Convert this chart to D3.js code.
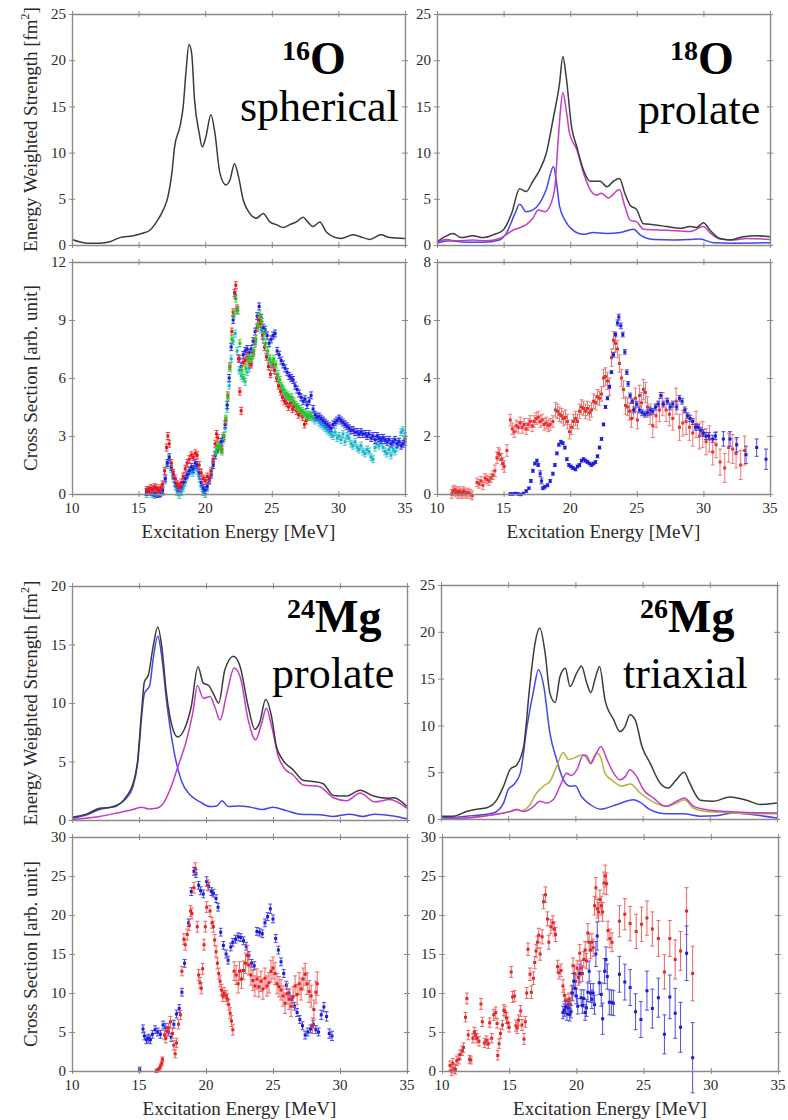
<!DOCTYPE html>
<html>
<head>
<meta charset="utf-8">
<script src="https://cdn.jsdelivr.net/npm/d3@7"></script>
</head>
<body style="margin:0;background:#fff">
<svg id="fig" width="788" height="1120" style="display:block"></svg>
<script>
// ---------- shared axis values ----------
const energyTicks = [10, 15, 20, 25, 30, 35];
const strengthTicks25 = [0, 5, 10, 15, 20, 25];
const strengthTicks20 = [0, 5, 10, 15, 20];
const xsTicks12 = [0, 3, 6, 9, 12];
const xsTicks8 = [0, 2, 4, 6, 8];
const xsTicks30 = [0, 5, 10, 15, 20, 25, 30];

// ---------- 16O : calculated strength (total) ----------
const o16Total = [[10,0.6],[11.2,0.2],[12.1,0.2],[12.85,0.35],[13.6,0.8],[14.6,1.0],[15.35,1.3],[15.85,1.6],[16.35,2.5],[16.85,3.8],[17.2,5.2],[17.5,7.8],[17.7,10.6],[18.1,12.8],[18.35,15],[18.55,18.6],[18.78,21.7],[18.98,20.8],[19.2,15.7],[19.55,12.1],[19.78,10.6],[20.05,11.7],[20.43,14.1],[20.73,12.1],[21.1,7.8],[21.55,6.5],[21.85,7.0],[22.2,8.8],[22.5,7.4],[22.85,4.9],[23.35,3.4],[23.85,2.9],[24.35,3.4],[24.85,2.5],[25.35,2.2],[25.85,1.9],[26.35,2.2],[26.85,2.5],[27.35,3.0],[27.7,2.5],[28.1,2.0],[28.6,2.5],[29.1,1.4],[29.6,0.9],[30.2,0.7],[31.1,1.1],[31.85,0.8],[32.35,0.6],[33.2,1.1],[33.85,0.8],[35,0.7]];

// ---------- 18O : calculated strength ----------
const o18Total = [[10,0.35],[10.6,0.9],[11.2,1.25],[11.8,0.8],[12.7,1.0],[13.45,0.8],[14.2,1.1],[14.95,1.6],[15.6,3.4],[16.2,6.1],[16.7,5.8],[17.2,6.9],[17.7,8.1],[18.2,9.9],[18.7,13.5],[19.2,17.5],[19.45,20.4],[19.7,18.2],[20.1,12.8],[20.5,10.6],[21,8.1],[21.5,6.9],[22.25,6.9],[22.75,6.3],[23.25,6.9],[23.7,7.2],[24.1,5.6],[24.5,4.3],[25,3.8],[25.5,2.3],[26.25,2.2],[27.25,2.0],[28.25,1.8],[29,2.0],[29.5,1.9],[30,2.4],[30.5,1.6],[31.25,0.7],[32,0.55],[33,0.9],[34,1.0],[35,0.9]];
const o18K0 = [[10,0.25],[10.7,0.6],[11.45,0.45],[12.7,0.55],[13.7,0.45],[14.7,0.7],[15.7,1.6],[16.7,2.2],[17.2,2.9],[17.6,3.8],[18.1,3.6],[18.5,4.3],[18.85,6.3],[19.1,11.4],[19.27,14.6],[19.45,16.5],[19.7,14.6],[19.95,12.1],[20.5,10.3],[21,7.8],[21.5,6.0],[22,5.4],[22.35,5.6],[22.85,5.1],[23.7,6.0],[24.1,4.2],[24.5,2.7],[25,2.5],[25.5,1.7],[27.25,1.6],[29,1.45],[30,2.0],[30.5,1.3],[31.25,0.65],[32.25,0.55],[33.25,0.7],[35,0.6]];
const o18K1 = [[10,0.2],[10.95,0.45],[12.2,0.3],[13.45,0.3],[14.7,0.55],[15.2,1.25],[15.85,3.4],[16.2,4.4],[16.7,3.6],[17.2,3.8],[17.7,4.5],[18.2,6.0],[18.75,8.5],[18.95,7.0],[19.2,4.2],[19.6,2.7],[20.2,1.6],[21,1.15],[21.7,1.35],[22.75,1.25],[23.75,1.35],[24.75,1.7],[25.25,1.1],[26.25,0.6],[27.75,0.55],[29,0.6],[29.75,0.65],[30.75,0.25],[32.25,0.2],[35,0.25]];

// ---------- 24Mg : calculated strength ----------
const mg24Total = [[10,0.23],[11.07,0.5],[12.06,1.0],[13.06,1.1],[14.05,2.0],[14.55,3.1],[14.9,5.1],[15.2,9.4],[15.4,11.8],[15.7,12.4],[16.05,14.8],[16.4,16.5],[16.7,14.8],[17.05,10.8],[17.55,7.7],[17.9,7.1],[18.4,7.8],[18.9,9.7],[19.4,13.1],[19.8,11.7],[20.2,11.5],[20.55,10.8],[20.95,10.0],[21.4,12.8],[22.05,14.0],[22.55,13.1],[23.15,9.7],[23.65,7.75],[24.0,8.3],[24.45,10.3],[24.9,8.8],[25.25,6.3],[25.75,5.1],[26.5,4.3],[27.25,3.4],[28,3.3],[28.75,3.1],[29.5,2.1],[30.5,2.05],[31.5,2.55],[32.5,2.05],[33.6,1.85],[34,1.9],[35,1.15]];
const mg24K0 = [[10,0.05],[12.06,0.3],[13.56,0.65],[14.55,0.9],[15.2,1.1],[15.7,0.95],[16.3,1.0],[16.8,1.4],[17.3,2.55],[17.9,4.55],[18.55,6.85],[19.05,9.4],[19.35,11.5],[19.8,10.4],[20.3,10.55],[20.65,9.7],[21.05,8.55],[21.55,10.8],[22.1,13.0],[22.55,12.25],[23.15,8.55],[23.7,6.85],[24.15,8.25],[24.5,9.55],[24.9,8.0],[25.4,5.4],[25.85,4.4],[26.5,3.85],[27.25,3.0],[28.5,2.85],[28.85,2.55],[29.5,1.9],[30.5,1.65],[31.5,2.3],[32.6,1.55],[33.7,1.75],[35,1.0]];
const mg24K1 = [[10,0.15],[11.07,0.43],[12.06,0.9],[13.06,1.15],[14.05,1.85],[14.55,2.85],[14.9,4.85],[15.2,8.85],[15.4,10.8],[15.8,11.5],[16.05,13.7],[16.4,15.7],[16.7,13.95],[17.05,10.25],[17.55,6.25],[18.15,3.4],[18.8,2.15],[19.55,1.55],[20.3,1.15],[20.8,1.2],[21.2,1.65],[21.65,1.15],[22.5,1.2],[23.3,1.1],[24.25,0.9],[25,1.1],[26,0.8],[27,0.5],[28.5,0.45],[29.5,0.3],[30.7,0.5],[31.7,0.3],[32.6,0.5],[34,0.35],[35,0.1]];

// ---------- 26Mg : calculated strength ----------
const mg26Total = [[10,0.3],[10.9,0.3],[11.9,0.8],[12.65,1.05],[13.4,1.2],[14.15,2.05],[14.65,3.5],[15.15,5.3],[15.65,5.8],[16.15,7.75],[16.6,14.15],[17.0,18.8],[17.35,20.4],[17.75,17.7],[18.1,13.45],[18.5,12.45],[18.85,15.2],[19.25,16.1],[19.6,14.15],[20.1,15.6],[20.45,16.35],[20.85,14.5],[21.15,13.5],[21.45,14.9],[21.8,16.3],[22.2,12.75],[22.85,10.6],[23.3,9.35],[23.7,9.9],[24.05,11.15],[24.45,10.6],[24.95,7.75],[25.55,6.0],[26.3,3.85],[26.9,3.3],[27.4,4.0],[28.1,5.0],[28.5,3.85],[29.3,2.0],[30.25,1.9],[31.5,2.35],[32.75,2.0],[33.75,1.55],[35,1.7]];
const mg26K1 = [[10,0.1],[11.9,0.3],[13.9,0.65],[14.65,1.7],[15.0,3.15],[15.4,3.65],[15.9,4.9],[16.4,9.9],[16.9,13.8],[17.25,15.95],[17.65,14.15],[18.1,9.2],[18.6,6.35],[19.1,4.2],[19.6,3.5],[20.0,3.55],[20.45,2.4],[21.1,1.55],[21.85,1.05],[23.1,1.55],[24.3,2.05],[24.8,1.8],[25.55,1.0],[26.8,0.55],[28.05,0.55],[29.3,0.3],[30.5,0.35],[31.75,0.65],[33.25,0.45],[35,0.1]];
const mg26K2 = [[10,0.0],[13.15,0.3],[15.15,0.8],[15.65,1.05],[16.0,0.9],[16.6,1.5],[17.1,2.75],[17.6,3.5],[18.1,4.0],[18.6,5.6],[19.1,7.1],[19.5,6.35],[19.85,6.5],[20.25,6.75],[20.6,6.85],[21.1,6.0],[21.6,7.05],[21.85,6.7],[22.2,4.9],[22.85,4.0],[23.45,3.5],[24.1,3.75],[24.8,2.8],[25.8,1.8],[26.8,1.35],[27.55,1.7],[28.1,2.05],[28.8,1.15],[29.8,0.8],[31.3,0.7],[32.75,0.55],[35,0.55]];
const mg26K0 = [[10,0.0],[13.15,0.3],[15.15,0.8],[15.65,1.0],[16.15,0.8],[16.9,1.35],[17.35,1.9],[17.85,1.7],[18.35,2.05],[18.85,3.5],[19.35,4.9],[19.7,4.65],[20.1,5.25],[20.6,6.85],[20.85,6.75],[21.15,5.9],[21.45,6.7],[21.9,7.75],[22.35,6.35],[22.85,4.9],[23.3,4.2],[23.7,4.5],[24.05,5.25],[24.55,4.55],[25.05,3.15],[25.8,2.25],[26.7,1.35],[27.55,1.9],[28.1,2.25],[28.8,1.35],[29.8,1.0],[31.3,0.8],[32.75,0.7],[35,0.65]];

// ---------- 16O : measured cross sections ----------
const o16Err = 0.18;
const o16Cyan = [[15.6,0.0],[15.8,0.1],[16.0,0.0],[16.2,-0.05],[16.4,0.0],[16.6,0.0],[16.8,0.1],[17.0,0.7],[17.15,1.5],[17.3,1.8],[17.45,1.3],[17.6,0.8],[17.75,0.4],[17.9,0.1],[18.05,-0.05],[18.2,0.1],[18.35,0.3],[18.5,0.6],[18.65,0.9],[18.8,1.1],[18.95,1.2],[19.1,1.1],[19.25,1.4],[19.4,1.2],[19.55,0.8],[19.7,0.4],[19.85,0.1],[20.0,0.0],[20.15,0.3],[20.3,0.7],[20.45,1.1],[20.6,1.6],[20.75,2.0],[20.9,2.3],[21.05,2.4],[21.2,2.6],[21.35,2.8],[21.5,3.4],[21.65,4.4],[21.8,5.6],[21.95,7.0],[22.1,7.9],[22.25,8.3],[22.4,7.4],[22.55,6.4],[22.7,6.1],[22.85,6.0],[23.0,5.8],[23.15,6.3],[23.3,6.5],[23.45,6.8],[23.6,7.2],[23.75,7.8],[23.9,8.6],[24.05,8.9],[24.2,8.5],[24.35,8.0],[24.5,7.6],[24.65,7.2],[24.8,6.9],[24.95,6.6],[25.1,6.7],[25.25,6.4],[25.4,6.0],[25.55,5.7],[25.7,5.5],[25.85,5.3],[26.0,5.1],[26.15,5.0],[26.3,4.9],[26.45,4.8],[26.6,4.7],[26.75,4.6],[26.9,4.5],[27.05,4.4],[27.2,4.3],[27.35,4.2],[27.5,4.2],[27.65,4.1],[27.8,4.1],[27.95,4.0],[28.1,3.9],[28.25,3.8],[28.4,3.9],[28.55,3.7],[28.7,3.6],[28.85,3.5],[29.0,3.4],[29.15,3.3],[29.3,3.2],[29.45,3.1],[29.6,3.0],[29.75,3.2],[29.9,2.9],[30.05,3.0],[30.2,2.8],[30.35,3.1],[30.5,2.7],[30.65,3.0],[30.8,2.9],[30.95,2.6],[31.1,2.5],[31.25,2.7],[31.4,2.4],[31.55,2.3],[31.7,2.5],[31.85,2.2],[32.0,2.1],[32.15,2.3],[32.3,2.2],[32.45,1.9],[32.6,1.8],[32.75,2.4],[32.9,2.6],[33.05,2.5],[33.2,2.7],[33.35,2.4],[33.5,2.2],[33.65,2.1],[33.8,2.3],[33.95,2.0],[34.1,2.3],[34.25,2.2],[34.4,2.4],[34.55,2.7],[34.7,3.2],[34.85,3.3],[35.0,3.0]];
const o16Blue = [[15.6,0.1],[15.8,0.15],[16.0,0.1],[16.2,0.05],[16.4,0.0],[16.6,0.05],[16.8,0.2],[17.0,0.8],[17.15,1.6],[17.3,1.9],[17.45,1.4],[17.6,1.0],[17.75,0.6],[17.9,0.35],[18.05,0.3],[18.2,0.4],[18.35,0.6],[18.5,0.8],[18.65,1.0],[18.8,1.2],[18.95,1.4],[19.1,1.3],[19.25,1.6],[19.4,1.5],[19.55,1.1],[19.7,0.6],[19.85,0.3],[20.0,0.2],[20.15,0.4],[20.3,0.7],[20.45,1.0],[20.6,1.5],[20.75,2.0],[20.9,2.3],[21.05,2.5],[21.2,2.7],[21.35,2.9],[21.5,3.6],[21.65,4.6],[21.8,6.0],[21.95,7.6],[22.1,9.0],[22.25,10.3],[22.4,9.5],[22.55,7.0],[22.7,6.6],[22.85,7.2],[23.0,7.4],[23.15,7.5],[23.3,7.3],[23.45,7.5],[23.6,7.9],[23.75,8.4],[23.9,9.2],[24.05,9.7],[24.2,9.1],[24.35,8.6],[24.5,8.5],[24.65,8.2],[24.8,7.8],[24.95,8.0],[25.1,8.2],[25.25,8.3],[25.4,7.4],[25.55,7.2],[25.7,6.9],[25.85,6.7],[26.0,6.5],[26.15,6.3],[26.3,6.1],[26.45,6.0],[26.6,5.9],[26.75,5.6],[26.9,5.4],[27.05,5.2],[27.2,5.0],[27.35,4.8],[27.5,4.9],[27.65,4.6],[27.8,4.8],[27.95,5.1],[28.1,4.4],[28.25,4.1],[28.4,4.0],[28.55,4.0],[28.7,3.9],[28.85,3.8],[29.0,3.7],[29.15,3.6],[29.3,3.5],[29.45,3.4],[29.6,3.6],[29.75,3.7],[29.9,3.8],[30.05,3.9],[30.2,3.8],[30.35,3.7],[30.5,3.6],[30.65,3.5],[30.8,3.4],[30.95,3.3],[31.1,3.3],[31.25,3.2],[31.4,3.2],[31.55,3.1],[31.7,3.2],[31.85,3.1],[32.0,3.1],[32.15,3.0],[32.3,3.1],[32.45,2.9],[32.6,3.0],[32.75,2.8],[32.9,3.0],[33.05,2.9],[33.2,2.8],[33.35,2.9],[33.5,2.8],[33.65,2.7],[33.8,2.8],[33.95,2.6],[34.1,2.7],[34.25,2.8],[34.4,2.6],[34.55,2.7],[34.7,2.5],[34.85,2.6],[35.0,2.7]];
const o16Red = [[15.6,0.2],[15.75,0.2],[15.9,0.3],[16.05,0.25],[16.2,0.35],[16.35,0.3],[16.5,0.2],[16.65,0.3],[16.8,0.5],[16.95,1.2],[17.1,2.4],[17.2,3.0],[17.3,2.6],[17.45,1.6],[17.6,1.1],[17.75,0.8],[17.9,0.5],[18.05,0.4],[18.2,0.6],[18.35,0.9],[18.5,1.3],[18.65,1.6],[18.8,1.8],[18.95,2.0],[19.1,1.9],[19.25,2.1],[19.4,2.0],[19.55,1.5],[19.7,1.1],[19.85,0.8],[20.0,0.7],[20.15,0.9],[20.3,0.8],[20.45,1.2],[20.6,1.8],[20.75,2.6],[20.85,3.1],[20.95,2.9],[21.1,2.4],[21.25,2.3],[21.4,3.0],[21.55,3.8],[21.7,5.1],[21.85,6.6],[22.0,8.4],[22.1,9.4],[22.2,10.4],[22.3,10.8],[22.4,9.6],[22.5,7.0],[22.6,5.3],[22.7,4.3],[22.85,6.8],[23.0,6.9],[23.15,7.1],[23.3,6.8],[23.45,6.7],[23.6,7.3],[23.75,7.9],[23.9,8.6],[24.0,9.0],[24.15,8.8],[24.3,8.2],[24.45,7.6],[24.6,7.1],[24.75,6.6],[24.9,6.2],[25.05,6.7],[25.2,6.4],[25.35,6.0],[25.5,5.6],[25.65,5.3],[25.8,5.0],[25.95,4.8],[26.1,4.7],[26.25,4.5],[26.4,4.7],[26.55,4.4],[26.7,4.5],[26.85,4.3],[27.0,4.1],[27.15,4.2],[27.3,4.0],[27.45,3.6],[27.6,3.8],[27.75,4.0]];
const o16Green = [[20.8,2.2],[20.95,2.5],[21.1,2.4],[21.25,2.2],[21.4,3.0],[21.55,3.9],[21.7,5.0],[21.85,6.5],[22.0,8.0],[22.15,9.3],[22.3,10.1],[22.45,9.5],[22.6,7.8],[22.75,6.4],[22.9,6.0],[23.05,6.5],[23.2,7.0],[23.35,7.0],[23.5,7.0],[23.65,7.4],[23.8,8.0],[23.95,8.7],[24.1,9.3],[24.25,8.9],[24.4,8.3],[24.55,7.8],[24.7,7.4],[24.85,7.0],[25.0,6.8],[25.15,7.0],[25.3,6.7],[25.45,6.2],[25.6,5.9],[25.75,5.6],[25.9,5.4],[26.05,5.2],[26.2,5.1],[26.35,5.0],[26.5,5.0],[26.65,4.8],[26.8,4.6],[26.95,4.5],[27.1,4.4],[27.25,4.3],[27.4,4.2],[27.55,4.1],[27.7,4.0],[27.85,4.1],[28.0,4.0]];

// ---------- 18O : measured cross sections [E, value, error] ----------
const o18Red = [[11.1,0.0,0.15],[11.2,0.1,0.15],[11.3,0.15,0.15],[11.4,0.05,0.15],[11.5,0.1,0.15],[11.6,0.0,0.15],[11.7,0.1,0.15],[11.8,0.05,0.15],[11.9,0.0,0.15],[12.0,0.1,0.15],[12.1,0.05,0.15],[12.2,0.0,0.15],[12.35,0.05,0.15],[12.5,0.0,0.15],[12.65,-0.05,0.15],[13.0,0.4,0.15],[13.15,0.35,0.15],[13.3,0.45,0.15],[13.45,0.3,0.15],[13.6,0.55,0.15],[13.75,0.5,0.15],[13.9,0.45,0.15],[14.05,0.55,0.15],[14.2,0.65,0.15],[14.35,0.8,0.2],[14.5,1.25,0.2],[14.6,1.4,0.2],[14.7,1.35,0.2],[14.85,1.2,0.2],[14.95,1.05,0.2],[15.05,0.95,0.2],[15.25,1.5,0.2],[15.5,2.55,0.2],[15.65,2.25,0.2],[15.8,2.15,0.2],[15.95,2.35,0.2],[16.1,2.3,0.2],[16.25,2.45,0.2],[16.4,2.3,0.2],[16.55,2.4,0.2],[16.7,2.25,0.2],[16.85,2.4,0.2],[17.0,2.5,0.2],[17.15,2.35,0.2],[17.3,2.5,0.2],[17.45,2.6,0.2],[17.6,2.65,0.2],[17.75,2.5,0.2],[17.9,2.55,0.2],[18.05,2.4,0.2],[18.2,2.45,0.2],[18.35,2.35,0.2],[18.5,2.4,0.2],[18.7,2.5,0.2],[18.9,2.9,0.25],[19.05,2.85,0.25],[19.2,2.75,0.25],[19.35,2.7,0.25],[19.5,2.6,0.25],[19.65,2.65,0.25],[19.8,2.5,0.25],[19.95,2.15,0.25],[20.1,2.3,0.25],[20.25,2.5,0.25],[20.4,2.6,0.25],[20.55,2.5,0.25],[20.7,2.85,0.25],[20.85,3.0,0.25],[21.0,2.95,0.25],[21.15,2.85,0.25],[21.3,2.95,0.25],[21.45,2.8,0.25],[21.6,2.9,0.25],[21.75,3.2,0.25],[21.9,3.15,0.25],[22.05,3.35,0.25],[22.2,3.3,0.25],[22.35,3.45,0.25],[22.5,4.0,0.3],[22.65,4.05,0.3],[22.8,3.9,0.3],[22.95,3.7,0.3],[23.1,4.7,0.3],[23.25,5.3,0.3],[23.4,5.2,0.3],[23.55,5.0,0.3],[23.7,4.5,0.3],[23.85,4.0,0.3],[24.0,3.6,0.3],[24.15,3.05,0.3],[24.3,3.0,0.3],[24.45,2.85,0.3],[24.6,2.6,0.3],[24.75,2.9,0.3],[24.9,3.3,0.35],[25.05,2.55,0.3],[25.2,3.4,0.35],[25.35,3.15,0.35],[25.5,3.6,0.35],[25.65,3.5,0.35],[25.8,3.0,0.35],[26.0,2.75,0.35],[26.2,2.35,0.4],[26.45,2.7,0.4],[26.7,2.9,0.4],[26.95,3.1,0.4],[27.2,2.9,0.4],[27.45,2.75,0.4],[27.7,2.6,0.4],[27.95,3.2,0.45],[28.2,2.3,0.45],[28.45,2.45,0.45],[28.7,2.5,0.45],[28.95,2.3,0.45],[29.2,2.1,0.45],[29.45,2.4,0.45],[29.7,2.0,0.45],[29.95,2.05,0.45],[30.2,1.8,0.45],[30.45,1.9,0.45],[30.7,1.45,0.45],[30.95,1.7,0.45],[31.25,1.1,0.45],[31.6,0.9,0.5],[31.9,1.6,0.5],[32.2,1.55,0.5],[32.45,1.4,0.5],[32.8,1.0,0.5],[33.1,1.5,0.5]];
const o18Blue = [[15.5,0.0,0.04],[15.7,0.0,0.04],[15.9,0.02,0.04],[16.1,0.0,0.04],[16.3,-0.02,0.04],[16.5,0.02,0.04],[16.7,0.1,0.04],[16.9,0.2,0.04],[17.05,0.45,0.05],[17.2,0.8,0.05],[17.35,1.05,0.05],[17.5,1.15,0.05],[17.6,1.0,0.05],[17.75,0.7,0.1],[17.85,0.45,0.1],[17.95,0.2,0.05],[18.1,0.25,0.05],[18.3,0.3,0.05],[18.5,0.45,0.05],[18.7,0.7,0.05],[18.85,1.0,0.05],[19.0,1.4,0.05],[19.15,1.7,0.05],[19.3,1.8,0.05],[19.45,1.75,0.05],[19.6,1.6,0.05],[19.75,1.2,0.05],[19.9,1.0,0.05],[20.05,0.95,0.05],[20.2,0.9,0.05],[20.4,0.85,0.05],[20.55,0.95,0.05],[20.7,1.0,0.05],[20.85,1.15,0.05],[21.0,1.2,0.05],[21.15,1.15,0.05],[21.3,1.1,0.05],[21.45,1.05,0.05],[21.6,1.0,0.05],[21.75,1.05,0.05],[21.9,1.1,0.05],[22.05,1.3,0.05],[22.2,1.6,0.05],[22.35,1.9,0.05],[22.5,2.4,0.05],[22.65,3.0,0.05],[22.8,3.3,0.05],[22.95,3.7,0.05],[23.1,4.2,0.05],[23.25,4.8,0.08],[23.4,5.5,0.08],[23.55,5.9,0.1],[23.65,6.1,0.1],[23.8,5.8,0.1],[23.95,5.5,0.08],[24.1,4.9,0.08],[24.25,4.2,0.08],[24.35,3.8,0.08],[24.5,3.4,0.08],[24.65,3.2,0.08],[24.8,2.9,0.1],[25.0,3.1,0.1],[25.2,2.9,0.1],[25.4,2.8,0.1],[25.6,2.75,0.1],[25.8,2.8,0.1],[26.0,2.9,0.1],[26.2,2.85,0.1],[26.4,3.0,0.1],[26.6,3.1,0.1],[26.8,3.4,0.1],[27.0,3.1,0.1],[27.3,3.2,0.1],[27.5,3.0,0.1],[27.7,3.1,0.1],[28.0,3.0,0.1],[28.2,3.3,0.1],[28.4,3.2,0.1],[28.6,2.9,0.1],[28.8,2.7,0.1],[29.0,2.6,0.1],[29.2,2.5,0.1],[29.4,2.3,0.1],[29.6,2.3,0.1],[29.8,2.2,0.1],[30.0,2.1,0.12],[30.2,2.0,0.12],[30.4,2.0,0.12],[30.7,1.9,0.12],[30.9,2.0,0.12],[31.5,1.9,0.25],[32.0,1.9,0.25],[32.5,1.7,0.25],[33.2,1.35,0.3],[34.0,1.6,0.3],[34.7,1.2,0.35]];

// ---------- 24Mg : measured cross sections [E, value, error] ----------
const mg24Blue = [[15.05,0.2,0.3],[15.3,5.4,0.5],[15.4,4.5,0.5],[15.55,4.0,0.5],[15.7,4.2,0.5],[15.85,4.0,0.5],[16.0,4.7,0.5],[16.2,5.3,0.5],[16.4,5.0,0.5],[16.6,4.7,0.5],[16.8,5.9,0.5],[17.0,5.6,0.5],[17.2,5.0,0.5],[17.4,4.3,0.5],[17.6,6.0,0.5],[17.8,7.3,0.5],[18.0,8.0,0.5],[18.2,10.1,0.5],[18.4,13.8,0.5],[18.7,19.0,0.5],[18.9,23.0,0.5],[19.1,25.6,0.5],[19.25,25.3,0.5],[19.45,23.8,0.5],[19.6,23.1,0.5],[19.8,22.7,0.5],[20.05,24.3,0.6],[20.2,23.7,0.5],[20.4,23.0,0.5],[20.55,22.8,0.5],[20.75,22.1,0.5],[20.9,21.0,0.5],[21.1,17.8,0.5],[21.3,16.1,0.5],[21.5,15.0,0.5],[21.65,14.2,0.5],[21.85,15.9,0.5],[22.0,16.5,0.5],[22.2,16.9,0.5],[22.4,17.2,0.5],[22.6,17.1,0.5],[22.8,16.7,0.5],[23.0,16.0,0.5],[23.2,14.8,0.5],[23.4,13.8,0.5],[23.6,13.5,0.5],[23.8,17.9,0.5],[24.0,17.8,0.5],[24.2,17.6,0.5],[24.4,19.0,0.5],[24.6,19.8,0.5],[24.8,20.8,0.6],[25.0,19.5,0.5],[25.2,17.0,0.5],[25.4,15.5,0.5],[25.6,14.0,0.5],[25.8,12.5,0.5],[26.0,11.0,0.5],[26.2,10.0,0.5],[26.4,9.2,0.5],[26.6,8.3,0.5],[26.8,7.5,0.5],[27.0,6.6,0.5],[27.2,5.8,0.5],[27.4,4.6,0.5],[27.6,5.0,0.5],[27.8,5.4,0.5],[28.0,6.0,0.5],[28.2,5.3,0.5],[28.4,5.0,0.5],[28.6,7.2,0.6],[28.8,8.2,0.6],[29.0,7.0,0.6],[29.2,4.8,0.6],[29.4,4.5,0.6]];
const mg24Red = [[16.3,0.0,0.2],[16.4,0.1,0.2],[16.5,0.3,0.2],[16.6,0.6,0.3],[16.7,1.0,0.3],[16.75,1.5,0.3],[16.9,4.6,0.6],[17.0,4.2,0.6],[17.1,5.1,0.6],[17.2,5.5,0.6],[17.35,6.3,0.7],[17.5,4.8,0.6],[17.6,3.3,0.6],[17.7,2.2,0.5],[17.8,3.6,0.6],[17.95,6.0,0.6],[18.1,7.2,0.6],[18.2,12.8,0.6],[18.35,16.9,0.7],[18.45,16.2,0.7],[18.6,17.5,0.7],[18.75,18.7,0.7],[18.85,20.5,0.7],[18.95,20.2,0.7],[19.1,23.5,0.7],[19.2,26.0,0.7],[19.35,18.5,0.7],[19.45,12.3,0.7],[19.55,11.3,0.7],[19.65,10.6,0.7],[19.75,13.1,0.7],[19.85,16.2,0.7],[19.95,18.5,0.7],[20.05,21.0,0.7],[20.15,23.8,0.7],[20.3,20.5,0.7],[20.45,19.0,0.7],[20.55,18.5,0.7],[20.65,16.8,0.7],[20.75,15.3,0.7],[20.85,13.8,0.7],[20.95,12.5,0.7],[21.05,11.5,0.7],[21.15,10.4,0.7],[21.25,9.6,0.7],[21.35,10.0,0.7],[21.5,9.6,0.7],[21.6,9.2,0.7],[21.7,8.5,0.7],[21.8,7.4,0.7],[21.9,6.4,0.7],[22.0,5.3,0.7],[22.1,12.8,1.2],[22.25,12.3,1.2],[22.4,11.2,1.2],[22.5,12.8,1.2],[22.65,11.8,1.2],[22.8,12.9,1.2],[22.95,13.8,1.3],[23.1,14.8,1.3],[23.2,13.6,1.3],[23.35,12.3,1.3],[23.5,11.6,1.3],[23.65,10.9,1.3],[23.8,11.8,1.3],[23.95,10.8,1.3],[24.1,11.5,1.3],[24.25,10.5,1.3],[24.4,11.9,1.3],[24.55,10.9,1.3],[24.7,11.3,1.3],[24.85,12.8,1.4],[25.0,13.2,1.4],[25.15,12.5,1.4],[25.3,11.2,1.3],[25.45,10.8,1.3],[25.6,10.4,1.3],[25.75,9.6,1.3],[25.9,8.7,1.3],[26.05,9.9,1.3],[26.2,9.2,1.3],[26.35,8.3,1.3],[26.5,9.5,1.3],[26.65,10.9,1.3],[26.8,9.8,1.3],[26.95,11.2,1.4],[27.1,10.5,1.4],[27.25,11.8,1.4],[27.4,12.4,1.4],[27.55,11.2,1.4],[27.7,10.2,1.4],[27.85,9.6,1.4],[27.95,5.8,1.0],[28.05,7.9,1.2],[28.2,10.1,1.4],[28.3,11.2,1.5]];

// ---------- 26Mg : measured cross sections [E, value, error] ----------
const mg26Red = [[10.6,0.7,0.6],[10.7,0.0,0.6],[10.8,1.0,0.6],[10.9,0.3,0.6],[11.0,0.2,0.6],[11.1,1.3,0.6],[11.25,1.5,0.6],[11.35,2.1,0.6],[11.5,2.6,0.6],[11.6,3.0,0.6],[11.75,6.9,0.6],[11.85,9.3,0.7],[11.95,4.6,0.6],[12.05,1.5,0.5],[12.15,1.4,0.5],[12.3,4.2,0.6],[12.4,5.0,0.6],[12.5,4.6,0.6],[12.6,4.2,0.6],[12.75,3.8,0.6],[12.9,8.6,0.7],[13.0,6.3,0.6],[13.15,3.6,0.6],[13.3,3.9,0.6],[13.45,3.5,0.6],[13.55,6.2,0.6],[13.7,4.2,0.6],[13.85,7.2,0.7],[14.0,7.5,0.7],[14.1,6.1,0.6],[14.15,2.0,0.6],[14.25,3.5,0.6],[14.35,4.8,0.6],[14.5,5.9,0.6],[14.6,7.8,0.7],[14.7,7.6,0.7],[14.8,6.8,0.7],[14.9,6.2,0.7],[15.0,5.6,0.6],[15.15,12.7,0.7],[15.25,9.5,0.7],[15.4,9.6,0.7],[15.5,5.8,0.7],[15.6,5.5,0.7],[15.7,6.5,0.7],[15.85,7.7,0.7],[15.95,5.9,0.7],[16.1,4.1,0.7],[16.2,6.3,0.7],[16.3,10.0,0.7],[16.4,15.6,0.8],[16.55,12.4,0.8],[16.65,10.1,0.8],[16.8,11.9,0.8],[16.9,13.9,0.8],[17.0,15.4,0.8],[17.1,16.5,0.8],[17.2,17.4,0.9],[17.3,15.0,0.8],[17.45,17.2,0.9],[17.55,21.7,0.9],[17.7,22.6,1.0],[17.85,19.5,0.9],[17.95,16.5,0.9],[18.1,18.5,0.9],[18.25,19.0,0.9],[18.35,18.2,0.9],[18.45,17.5,0.9],[18.6,13.4,0.8],[18.7,12.6,0.8],[18.85,12.9,0.8],[19.0,10.9,0.8],[19.1,9.7,0.8],[19.2,9.0,0.8],[19.35,8.5,0.8],[19.45,9.2,0.8],[19.55,8.6,0.8],[19.65,10.0,0.9],[19.75,13.5,1.0],[19.85,12.5,1.0],[19.95,11.5,1.0],[20.05,13.2,1.0],[20.15,12.0,1.0],[20.25,15.1,1.1],[20.35,13.2,1.0],[20.45,12.5,1.0],[20.55,14.3,1.0],[20.65,15.5,1.1],[20.75,14.1,1.0],[20.85,17.7,1.2],[20.95,16.5,1.1],[21.05,15.5,1.1],[21.15,16.5,1.1],[21.25,15.8,1.1],[21.35,21.2,1.2],[21.45,23.5,1.3],[21.55,20.8,1.2],[21.65,20.4,1.2],[21.75,22.0,1.2],[21.85,21.2,1.2],[21.95,20.4,1.2],[22.05,24.1,1.4],[22.15,25.0,1.4],[22.25,24.0,1.4],[22.35,18.0,1.2],[22.5,17.0,1.2],[22.65,16.5,1.2],[23.2,19.2,2.0],[23.6,20.1,2.0],[24.0,18.9,2.2],[24.45,17.9,2.2],[24.85,18.8,2.2],[25.25,19.6,2.2],[25.65,18.2,2.2],[26.1,17.0,2.3],[26.55,12.7,2.2],[26.95,17.0,2.3],[27.35,14.3,2.5],[27.75,15.4,2.5],[28.2,20.5,3.0],[28.65,12.5,3.5]];
const mg26Blue = [[19.0,7.5,0.8],[19.1,7.8,0.8],[19.2,8.2,0.8],[19.3,7.3,0.8],[19.4,8.1,0.8],[19.5,7.2,0.8],[19.6,7.6,0.8],[19.7,10.0,1.0],[19.8,11.5,1.0],[19.9,10.6,1.0],[20.0,9.6,1.0],[20.1,8.3,1.0],[20.25,12.5,1.2],[20.35,9.4,1.0],[20.45,8.4,1.0],[20.55,9.3,1.1],[20.65,7.5,1.0],[20.75,8.1,1.1],[20.85,10.1,1.2],[20.95,12.8,1.3],[21.05,10.0,1.2],[21.15,9.2,1.2],[21.25,10.0,1.2],[21.35,8.5,1.2],[21.45,15.0,1.6],[21.55,17.3,1.8],[21.7,11.3,1.5],[21.85,9.8,1.5],[21.95,6.7,2.0],[22.1,12.8,1.6],[22.2,14.3,1.6],[22.3,12.1,1.6],[22.45,8.8,1.6],[22.6,8.8,1.6],[22.75,8.7,1.6],[23.2,12.4,2.3],[23.6,11.4,2.3],[24.0,10.7,2.3],[24.4,7.6,2.3],[24.8,6.6,2.3],[25.25,10.3,2.5],[25.65,8.0,2.5],[26.1,9.4,2.5],[26.55,4.7,2.5],[26.95,9.5,2.8],[27.35,7.4,3.2],[27.75,5.6,3.2],[28.2,15.1,3.5],[28.65,1.7,4.5]];

// ---------- drawing ----------
const FONT = 'Liberation Serif';
const svg = d3.select('#fig');
svg.append('rect').attr('width', 788).attr('height', 1120).attr('fill', '#fff');

const frameColor = '#8a8a8a';
const textColor = '#2a2a2a';

function label(parent) {
  return parent.append('text')
    .attr('font-family', FONT)
    .style('font-family', `"${FONT}"`, 'important');
}

function makePanel(p) {
  const x = d3.scaleLinear().domain([10, 35]).range([p.left, p.right]);
  const y = d3.scaleLinear().domain([0, p.ymax]).range([p.bottom, p.top]);
  const g = svg.append('g');
  const layer = g.append('g');

  // frame with crossing ticks on all four sides (no text inside the axis groups)
  const axes = g.append('g');
  const axisDefs = [
    [d3.axisBottom(x), 0, p.bottom, 'h'],
    [d3.axisTop(x), 0, p.top, 'h'],
    [d3.axisLeft(y), p.left, 0, 'v'],
    [d3.axisRight(y), p.right, 0, 'v']
  ];
  axisDefs.forEach(([ax, tx, ty, dir]) => {
    const vals = dir === 'h' ? energyTicks : p.yticks;
    const a = axes.append('g')
      .attr('transform', `translate(${tx},${ty})`)
      .call(ax.tickValues(vals).tickSizeOuter(0).tickFormat(''));
    a.attr('font-family', null);
    a.select('.domain').attr('stroke', frameColor).attr('stroke-width', 1.4);
    a.selectAll('.tick line')
      .attr('stroke', frameColor).attr('stroke-width', 1)
      .each(function () {
        const l = d3.select(this);
        if (dir === 'h') l.attr('y1', -3).attr('y2', 3);
        else l.attr('x1', -3).attr('x2', 3);
      });
    a.selectAll('.tick text').remove();
  });

  // y tick labels
  p.yticks.forEach(v => {
    label(g).attr('x', p.left - 6).attr('y', y(v)).attr('dy', '0.35em')
      .attr('text-anchor', 'end').attr('font-size', 15).attr('fill', textColor)
      .text(v);
  });

  if (p.xlabels) {
    energyTicks.forEach(v => {
      label(g).attr('x', x(v)).attr('y', p.bottom + 19)
        .attr('text-anchor', 'middle').attr('font-size', 15).attr('fill', textColor)
        .text(v);
    });
    label(g).attr('x', (p.left + p.right) / 2).attr('y', p.bottom + 44)
      .attr('text-anchor', 'middle').attr('font-size', 19).attr('fill', textColor)
      .text('Excitation Energy [MeV]');
  }

  if (p.ytitle) {
    const t = label(g)
      .attr('transform', `translate(37,${(p.top + p.bottom) / 2}) rotate(-90)`)
      .attr('text-anchor', 'middle').attr('font-size', 19).attr('fill', textColor);
    if (p.ytitle === 'strength') {
      t.append('tspan').text('Energy Weighted Strength [fm');
      t.append('tspan').attr('font-size', 12).attr('dy', -8).text('2');
      t.append('tspan').attr('dy', 8).text(']');
    } else {
      t.text('Cross Section [arb. unit]');
    }
  }
  return { x, y, g: layer };
}

function drawCurve(P, data, color) {
  const line = d3.line().x(d => P.x(d[0])).y(d => P.y(d[1])).curve(d3.curveMonotoneX);
  P.g.append('path').datum(data).attr('d', line)
    .attr('fill', 'none').attr('stroke', color).attr('stroke-width', 1.5)
    .attr('stroke-linejoin', 'round');
}

// error bars with caps and square markers, one path each per series
function drawPoints(P, data, color, barColor, errConst, size) {
  const bars = d3.path();
  const marks = d3.path();
  data.forEach(d => {
    const e = d.length > 2 ? d[2] : errConst;
    const cx = P.x(d[0]), cy = P.y(d[1]);
    const yTop = P.y(d[1] + e), yBot = P.y(d[1] - e);
    bars.moveTo(cx, yTop); bars.lineTo(cx, yBot);
    bars.moveTo(cx - 2, yTop); bars.lineTo(cx + 2, yTop);
    bars.moveTo(cx - 2, yBot); bars.lineTo(cx + 2, yBot);
    marks.rect(cx - size / 2, cy - size / 2, size, size);
  });
  P.g.append('path').attr('d', bars.toString())
    .attr('fill', 'none').attr('stroke', barColor).attr('stroke-width', 1);
  P.g.append('path').attr('d', marks.toString()).attr('fill', color);
}

function nucleusLabel(x, baseline, mass, sym, shapeX, shapeBase, shape) {
  const t = label(svg).attr('x', x).attr('y', baseline)
    .attr('font-weight', 'bold').attr('fill', '#000');
  t.append('tspan').attr('font-size', 28).attr('dy', -14).text(mass);
  t.append('tspan').attr('font-size', 46).attr('dy', 14).text(sym);
  label(svg).attr('x', shapeX).attr('y', shapeBase)
    .attr('font-size', 44).attr('fill', '#000').text(shape);
}

const colBlack = '#3c3c3c', colMagenta = '#c43cc4', colBlue = '#4646e8', colOlive = '#b4b43c';

// 16O strength
const p1 = makePanel({ left: 72, right: 405, top: 14, bottom: 245, ymax: 25, yticks: strengthTicks25, ytitle: 'strength' });
drawCurve(p1, o16Total, colBlack);

// 18O strength
const p2 = makePanel({ left: 437, right: 770, top: 14, bottom: 245, ymax: 25, yticks: strengthTicks25 });
drawCurve(p2, o18K1, colBlue);
drawCurve(p2, o18K0, colMagenta);
drawCurve(p2, o18Total, colBlack);

// 16O cross sections
const p3 = makePanel({ left: 72, right: 405, top: 262, bottom: 494, ymax: 12, yticks: xsTicks12, ytitle: 'xs', xlabels: true });
drawPoints(p3, o16Cyan, '#1eb4c8', '#46c8d8', o16Err, 3);
drawPoints(p3, o16Blue, '#1c1ce0', '#3c3ce8', o16Err, 3);
drawPoints(p3, o16Red, '#e8141e', '#ee3c3c', o16Err, 3);
drawPoints(p3, o16Green, '#1ec81e', '#3cd83c', o16Err, 3);

// 18O cross sections
const p4 = makePanel({ left: 437, right: 770, top: 262, bottom: 494, ymax: 8, yticks: xsTicks8, xlabels: true });
drawPoints(p4, o18Red, '#e83232', '#f07878', 0, 3);
drawPoints(p4, o18Blue, '#1c1cd8', '#4848e0', 0, 3);

// 24Mg strength
const p5 = makePanel({ left: 72, right: 407, top: 586, bottom: 820, ymax: 20, yticks: strengthTicks20, ytitle: 'strength' });
drawCurve(p5, mg24K1, colBlue);
drawCurve(p5, mg24K0, colMagenta);
drawCurve(p5, mg24Total, colBlack);

// 26Mg strength
const p6 = makePanel({ left: 441, right: 777, top: 585, bottom: 819, ymax: 25, yticks: strengthTicks25 });
drawCurve(p6, mg26K1, colBlue);
drawCurve(p6, mg26K2, colOlive);
drawCurve(p6, mg26K0, colMagenta);
drawCurve(p6, mg26Total, colBlack);

// 24Mg cross sections
const p7 = makePanel({ left: 72, right: 407, top: 837, bottom: 1071, ymax: 30, yticks: xsTicks30, ytitle: 'xs', xlabels: true });
drawPoints(p7, mg24Blue, '#1c1cd8', '#4848e0', 0, 3);
drawPoints(p7, mg24Red, '#e82020', '#f06464', 0, 3);

// 26Mg cross sections
const p8 = makePanel({ left: 442, right: 778, top: 837, bottom: 1071, ymax: 30, yticks: xsTicks30, xlabels: true });
drawPoints(p8, mg26Red, '#e02828', '#ec6464', 0, 3);
drawPoints(p8, mg26Blue, '#1c1cd0', '#5050e0', 0, 3);

// nucleus and shape labels
nucleusLabel(282, 74, '16', 'O', 240, 121, 'spherical');
nucleusLabel(670, 74, '18', 'O', 638, 124, 'prolate');
nucleusLabel(287, 632, '24', 'Mg', 272, 688, 'prolate');
nucleusLabel(640, 632, '26', 'Mg', 623, 688, 'triaxial');
</script>
</body>
</html>
